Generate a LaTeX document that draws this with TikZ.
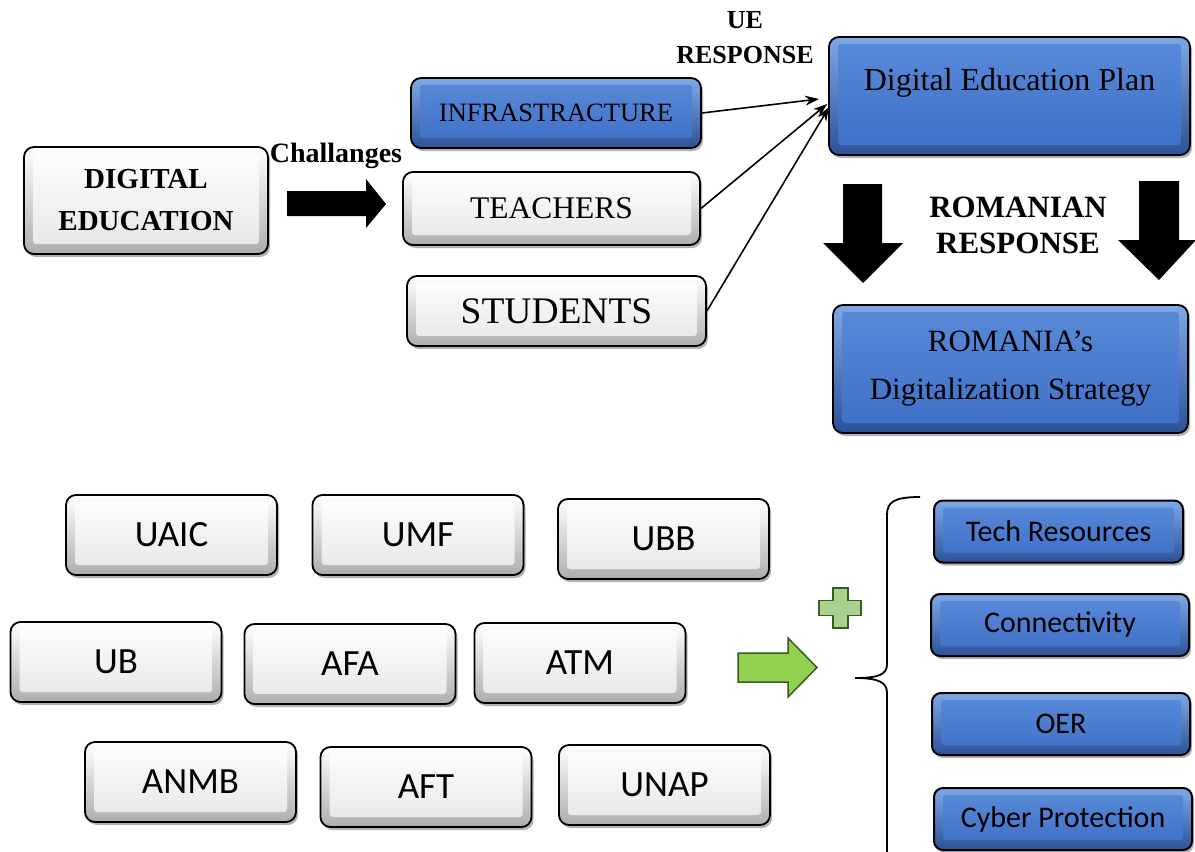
\documentclass[tikz,border=0pt]{standalone}
\usepackage{fontspec}
\setmainfont{Liberation Serif}
\newfontfamily\sansF{Carlito}
\usetikzlibrary{shadows,arrows.meta,calc}
\definecolor{bevtop}{HTML}{7FA8E8}
\definecolor{bevbot}{HTML}{2B5298}
\definecolor{facetop}{HTML}{5A8AD8}
\definecolor{facebot}{HTML}{3F6FC6}
\definecolor{gfill}{HTML}{92D050}
\definecolor{gline}{HTML}{3A5A1E}
\definecolor{pfill}{HTML}{A9D18E}
\tikzset{
  base/.style={draw=black, line width=1.8pt, rounded corners=10pt, inner sep=0pt,
    drop shadow={shadow xshift=2pt, shadow yshift=-3pt, opacity=.3, fill=black}},
  wbox/.style={base, top color=white, bottom color=black!32,
    path picture={\shade[rounded corners=3pt, top color=white, bottom color=black!10]
      ([xshift=9pt,yshift=-7pt]path picture bounding box.north west) rectangle
      ([xshift=-9pt,yshift=10pt]path picture bounding box.south east);}},
  bbox/.style={base, top color=bevtop, bottom color=bevbot,
    path picture={\shade[rounded corners=3pt, top color=facetop, bottom color=facebot]
      ([xshift=9pt,yshift=-7pt]path picture bounding box.north west) rectangle
      ([xshift=-9pt,yshift=10pt]path picture bounding box.south east);}},
  uni/.style={wbox, minimum width=211pt, minimum height=80pt, font=\sansF\fontsize{37}{40}\selectfont},
  res/.style={bbox, line width=2pt, rounded corners=9pt, minimum height=62pt, font=\sansF\fontsize{30}{34}\selectfont},
  conn/.style={line width=1.6pt, -{Stealth[length=14pt,width=10pt]}},
  blockarrow/.style={fill=black},
  lbl/.style={font=\bfseries\fontsize{26}{35}\selectfont, align=center}
}
\begin{document}
\begin{tikzpicture}[x=1pt,y=-1pt]
\useasboundingbox (0,0) rectangle (1195,852);
\fill[white] (0,0) rectangle (1195,852);

% top left
\node[wbox, minimum width=244pt, minimum height=107pt, align=center,
  font=\bfseries\fontsize{29}{42}\selectfont] (de) at (146,200.5) {DIGITAL\\EDUCATION};
\node[font=\bfseries\fontsize{28}{30}\selectfont] (chal) at (336,156) {Challanges};
\fill[blockarrow] (287,191) -- (366,191) -- (366,179) -- (386,204) -- (366,228) -- (366,216) -- (287,216) -- cycle;

\node[bbox, minimum width=290pt, minimum height=70pt, font=\fontsize{26.5}{30}\selectfont] (infra) at (556,113) {INFRASTRACTURE};
\node[wbox, minimum width=297pt, minimum height=73pt, font=\fontsize{31.5}{34}\selectfont] (teach) at (551.5,208.5) {TEACHERS};
\node[wbox, minimum width=299pt, minimum height=70pt, font=\fontsize{37.5}{40}\selectfont] (stud) at (556.5,311) {STUDENTS};

\node[lbl] (ue) at (745,38) {UE\\RESPONSE};

\node[bbox, minimum width=361pt, minimum height=118pt,
  label={[name=deptext, yshift=13pt, font=\fontsize{32}{36}\selectfont]center:Digital Education Plan}] (dep) at (1009.5,96) {};

\draw[conn] (infra.east) -- ($(dep.west)+(-9,3)$);
\draw[conn] (teach.east) -- ($(dep.west)+(-1,8)$);
\draw[conn] (stud.east) -- ($(dep.west)+(1,11)$);

% down arrows
\fill[blockarrow] (843,184) -- (882,184) -- (882,243) -- (903,243) -- (863,283) -- (823,243) -- (843,243) -- cycle;
\fill[blockarrow] (1139,181) -- (1179,181) -- (1179,240) -- (1196,240) -- (1159,280) -- (1118,240) -- (1139,240) -- cycle;
\node[font=\bfseries\fontsize{31}{36}\selectfont, align=center] (rr) at (1018,225) {ROMANIAN\\RESPONSE};

\node[bbox, minimum width=355pt, minimum height=128pt, align=center,
  font=\fontsize{31}{48}\selectfont] (ros) at (1010.5,369) {ROMANIA’s\\Digitalization Strategy};

% universities
\node[uni] (uaic) at (171.5,535) {UAIC};
\node[uni] (umf) at (418,535) {UMF};
\node[uni] (ubb) at (663.5,539) {UBB};
\node[uni] (ub) at (116,662) {UB};
\node[uni] (afa) at (350,664) {AFA};
\node[uni] (atm) at (580,663) {ATM};
\node[uni] (anmb) at (190.5,782) {ANMB};
\node[uni] (aft) at (426,787) {AFT};
\node[uni] (unap) at (664.5,785) {UNAP};

% green arrow and plus
\filldraw[fill=gfill, draw=gline, line width=1.5pt] (738,653) -- (788,653) -- (788,638) -- (817,667.5) -- (788,697) -- (788,682) -- (738,682) -- cycle;
\filldraw[fill=pfill, draw=gline, line width=1.5pt]
  (833,588) -- (848,588) -- (848,600.5) -- (861,600.5) -- (861,615.5) -- (848,615.5) -- (848,628)
  -- (833,628) -- (833,615.5) -- (819,615.5) -- (819,600.5) -- (833,600.5) -- cycle;

% brace
\draw[line width=1.8pt] (920,497) .. controls (894,497) and (887,502) .. (887,515) -- (887,664)
  .. controls (887,674) and (880,678) .. (855,678);
\draw[line width=1.8pt] (855,678) .. controls (880,678) and (887,683) .. (887,693) -- (887,860);

% resources
\node[res, minimum width=249pt] (tech) at (1058.5,531.5) {Tech Resources};
\node[res, minimum width=258pt] (con) at (1060,625) {Connectivity};
\node[res, minimum width=258pt] (oer) at (1061,724) {OER};
\node[res, minimum width=258pt] (cyb) at (1063,819) {Cyber Protection};
\end{tikzpicture}
\end{document}
